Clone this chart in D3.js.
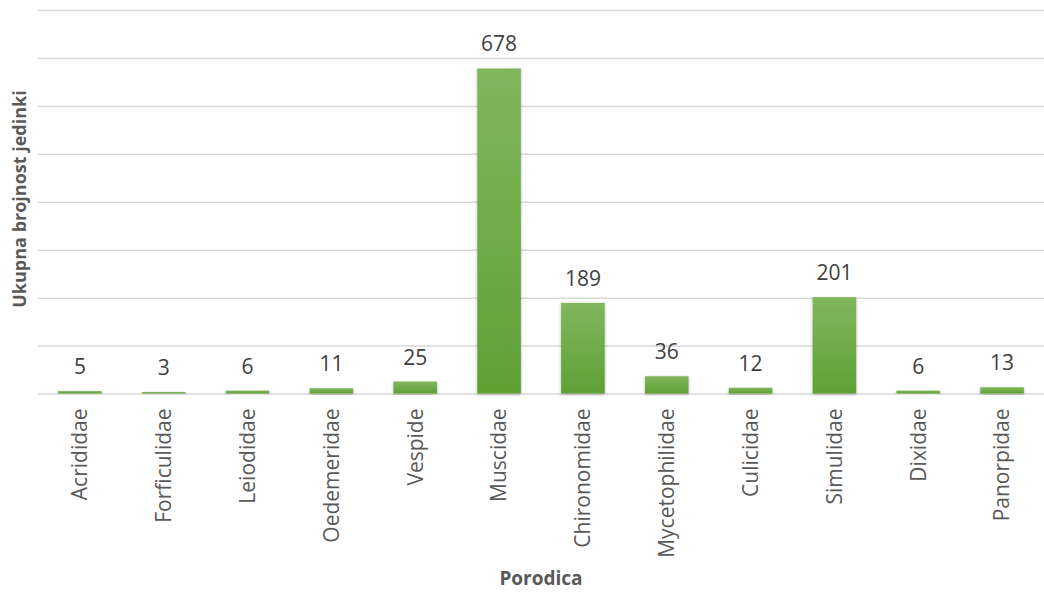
<!DOCTYPE html>
<html>
<head>
    <title>Porodica</title>
    <script src="https://cdn.jsdelivr.net/npm/d3@7"></script>
    <style>
    body { margin: 0; background: #fff; }
    text { font-family: "Open Sans", sans-serif; }
    .grid line { stroke: #d9d9d9; stroke-width: 1.5; }
    .grid .domain { display: none; }
    </style>
</head>
<body>
<div id="chart"></div>
<script>
    // families and counts
    var families = ["Acrididae", "Forficulidae", "Leiodidae", "Oedemeridae", "Vespide", "Muscidae",
                    "Chironomidae", "Mycetophilidae", "Culicidae", "Simulidae", "Dixidae", "Panorpidae"];
    var counts = [5, 3, 6, 11, 25, 678, 189, 36, 12, 201, 6, 13];
    var yTicks = [0, 100, 200, 300, 400, 500, 600, 700, 800];

    var w = 1044, h = 593;
    var margin = {top: 10, right: 0, bottom: 200, left: 38};

    var svg = d3.select("#chart").append("svg")
        .attr("width", w)
        .attr("height", h);

    var x = d3.scaleBand()
        .domain(families)
        .range([margin.left, w - margin.right])
        .paddingInner(0.48)
        .paddingOuter(0.24);

    var y = d3.scaleLinear()
        .domain([0, 800])
        .range([h - margin.bottom + 0.5, margin.top]);

    // gradient for the bars
    var defs = svg.append("defs");
    var grad = defs.append("linearGradient")
        .attr("id", "barGrad")
        .attr("x1", 0).attr("y1", 0).attr("x2", 0).attr("y2", 1);
    grad.append("stop").attr("offset", "0%").attr("stop-color", "#81b65d");
    grad.append("stop").attr("offset", "100%").attr("stop-color", "#5fa035");

    var shadow = defs.append("filter").attr("id", "shadow")
        .attr("x", "-20%").attr("y", "-5%").attr("width", "140%").attr("height", "115%");
    shadow.append("feDropShadow")
        .attr("dx", 0).attr("dy", 1).attr("stdDeviation", 1.6)
        .attr("flood-color", "#000").attr("flood-opacity", 0.3);

    // gridlines
    svg.append("g")
        .attr("class", "grid")
        .attr("transform", "translate(" + margin.left + ",0)")
        .call(d3.axisLeft(y).tickValues(yTicks).tickSize(-(w - margin.left - margin.right)).tickFormat(""));

    // bars
    svg.selectAll("rect.bar")
        .data(counts)
        .enter()
        .append("rect")
        .attr("class", "bar")
        .attr("x", function(d, i) { return x(families[i]); })
        .attr("width", x.bandwidth())
        .attr("y", function(d) { return y(d); })
        .attr("height", function(d) { return y(0) - y(d); })
        .attr("fill", "url(#barGrad)")
        .attr("filter", "url(#shadow)");

    // value labels
    svg.selectAll("text.val")
        .data(counts)
        .enter()
        .append("text")
        .attr("class", "val")
        .attr("x", function(d, i) { return x(families[i]) + x.bandwidth() / 2; })
        .attr("y", function(d) { return y(d) - 17; })
        .attr("text-anchor", "middle")
        .attr("fill", "#404040")
        .style("font-size", "21px")
        .text(function(d) { return d; });

    // category labels, rotated
    var xAxis = svg.append("g")
        .attr("transform", "translate(0," + y(0) + ")")
        .call(d3.axisBottom(x).tickSize(0).tickPadding(0));
    xAxis.select(".domain").remove();
    xAxis.selectAll("text")
        .attr("transform", "rotate(-90)")
        .attr("x", -15)
        .attr("y", 0)
        .attr("dy", "0.35em")
        .attr("text-anchor", "end")
        .attr("fill", "#595959")
        .style("font-size", "21px");

    // axis titles
    svg.append("text")
        .attr("x", (margin.left + w) / 2)
        .attr("y", 585)
        .attr("text-anchor", "middle")
        .attr("fill", "#595959")
        .style("font-size", "19px")
        .style("font-weight", "bold")
        .text("Porodica");

    svg.append("text")
        .attr("transform", "translate(26," + 199 + ") rotate(-90)")
        .attr("text-anchor", "middle")
        .attr("fill", "#595959")
        .style("font-size", "18px")
        .style("font-weight", "bold")
        .text("Ukupna brojnost jedinki");
</script>
</body>
</html>
